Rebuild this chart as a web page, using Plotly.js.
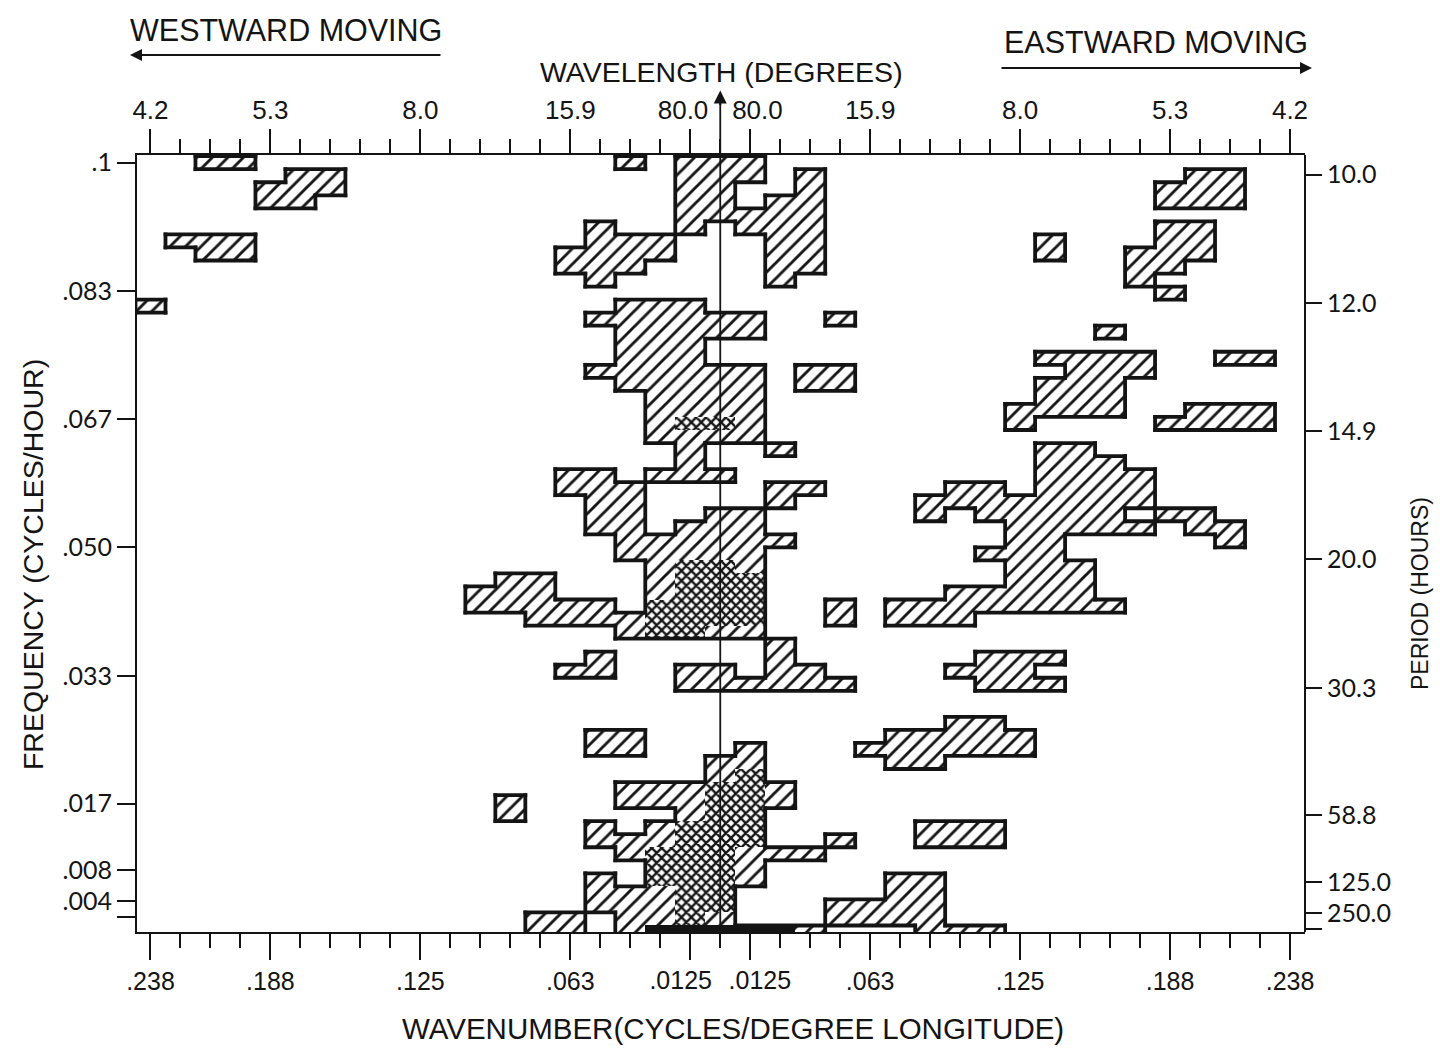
<!DOCTYPE html>
<html><head><meta charset="utf-8">
<script src="https://cdn.plot.ly/plotly-3.0.1.min.js"></script>
<style>html,body{margin:0;padding:0;background:#fff}#chart{width:1440px;height:1050px}</style>
</head><body><div id="chart"></div>
<script>
// ---- grid resolution (columns = wavenumber k/80 cycles/degree, rows = frequency j/590 cycles/hour)
const WAVENUMBER_STEP = 1 / 80;
const FREQ_STEP = 1 / 590;

// ---- tick labels
const waveTickK = [-19, -15, -10, -5, -1, 1, 5, 10, 15, 19];
const wavenumberLabels = ['.238', '.188', '.125', '.063', '.0125', '.0125', '.063', '.125', '.188', '.238'];
const wavelengthLabels = ['4.2', '5.3', '8.0', '15.9', '80.0', '80.0', '15.9', '8.0', '5.3', '4.2'];
const freqTicks = [0.1, 0.0833, 0.0667, 0.05, 0.0333, 0.0167, 0.008, 0.004, 0.002];
const freqLabels = ['.1', '.083', '.067', '.050', '.033', '.017', '.008', '.004', ''];
const periodLabels = ['10.0', '12.0', '14.9', '20.0', '30.3', '58.8', '125.0', '250.0', ''];

// ---- significant spectral cells: [frequency row j, k from, k to]
const hatchedRuns = [
  [59,-17,-16],[59,-3,-3],[59,-1,1],
  [58,-14,-13],[58,-1,1],[58,3,3],[58,16,17],
  [57,-15,-13],[57,-1,0],[57,3,3],[57,15,17],
  [56,-15,-14],[56,-1,0],[56,2,3],[56,15,17],
  [55,-1,3],
  [54,-4,-4],[54,-1,-1],[54,1,3],[54,15,16],
  [53,-18,-16],[53,-4,-2],[53,2,3],[53,11,11],[53,15,16],
  [52,-17,-16],[52,-5,-2],[52,2,3],[52,11,11],[52,14,16],
  [51,-5,-3],[51,2,3],[51,14,15],
  [50,-4,-4],[50,2,2],[50,14,14],
  [49,15,15],
  [48,-19,-19],[48,-3,-1],
  [47,-4,1],[47,4,4],
  [46,-3,1],[46,13,13],
  [45,-3,-1],
  [44,-3,-1],[44,11,14],[44,17,18],
  [43,-4,1],[43,3,4],[43,12,14],
  [42,-3,1],[42,3,4],[42,11,13],
  [41,-2,1],[41,11,13],
  [40,-2,1],[40,10,13],[40,16,18],
  [39,-2,-2],[39,1,1],[39,10,10],[39,15,18],
  [38,-2,1],
  [37,-1,-1],[37,2,2],[37,11,12],
  [36,-1,-1],[36,11,13],
  [35,-5,-4],[35,-2,0],[35,11,14],
  [34,-5,-3],[34,2,3],[34,8,9],[34,11,14],
  [33,-4,-3],[33,2,2],[33,7,14],
  [32,-4,-3],[32,0,1],[32,7,7],[32,9,13],[32,15,16],
  [31,-4,-3],[31,-1,1],[31,10,14],[31,16,17],
  [30,-3,2],[30,10,11],[30,17,17],
  [29,-3,1],[29,9,11],
  [28,-2,-2],[28,1,1],[28,10,12],
  [27,-7,-6],[27,-2,-2],[27,10,12],
  [26,-8,-6],[26,-2,-2],[26,8,12],
  [25,-8,-4],[25,4,4],[25,6,13],
  [24,-6,-3],[24,4,4],[24,6,8],
  [23,-3,-3],[23,0,1],
  [22,2,2],
  [21,-4,-4],[21,2,2],[21,9,11],
  [20,-5,-4],[20,-1,0],[20,2,3],[20,8,10],
  [19,-1,4],[19,9,11],
  [16,8,9],
  [15,-4,-3],[15,6,10],
  [14,-4,-3],[14,1,1],[14,5,10],
  [13,0,1],[13,6,7],
  [12,0,0],
  [11,-3,-1],[11,2,2],
  [10,-7,-7],[10,-3,-1],[10,2,2],
  [9,-7,-7],[9,-1,-1],
  [8,-4,-4],[8,-2,-2],[8,7,9],
  [7,-4,-2],[7,4,4],[7,7,9],
  [6,-3,-3],[6,1,3],
  [5,1,1],
  [4,-4,-4],[4,1,1],[4,6,7],
  [3,-4,-2],[3,6,7],
  [2,-4,-2],[2,4,7],
  [1,-6,-5],[1,-3,-2],[1,0,0],[1,4,7],
  [0,-6,-5],[0,-3,-3],[0,3,3],[0,7,9]
];
const crossRuns = [
  [39,-1,0],
  [28,-1,0],[27,-1,1],[26,-1,1],[25,-2,1],[24,-2,1],[23,-2,-1],
  [12,1,1],[11,0,1],[10,0,1],[9,0,1],[8,-1,1],[7,-1,1],
  [6,-2,0],[5,-2,0],[4,-2,0],[3,-1,0],[2,-1,0],[1,-1,-1]
];
const solidRuns = [[0,-2,2]];

// ---- expand runs into cells
function expand(runs) {
  const cells = [];
  runs.forEach(([j, a, b]) => { for (let k = a; k <= b; k++) cells.push({ j, k }); });
  return cells;
}
const hatchedCells = expand(hatchedRuns);
const crossCells = expand(crossRuns);
const solidCells = expand(solidRuns);

const FG = '#141414';
function barTrace(cells, marker) {
  return {
    type: 'bar',
    x: cells.map(c => c.k * WAVENUMBER_STEP),
    y: cells.map(() => FREQ_STEP),
    base: cells.map(c => (c.j - 0.5) * FREQ_STEP),
    width: cells.map(() => WAVENUMBER_STEP),
    marker: marker,
    hoverinfo: 'skip',
    showlegend: false
  };
}

// ---- axis geometry
const X0 = -19.45 * WAVENUMBER_STEP, X1 = 19.5 * WAVENUMBER_STEP;
const Y0 = 0, Y1 = 0.101;
const PLOT_W = 1168, PLOT_H = 777;
const RIGHT_SHIFT = 0.00155; // right-hand period scale sits slightly lower in the original

// ---- outline of significant regions (boundary between filled and empty cells)
const all = hatchedCells.concat(crossCells, solidCells);
const filled = new Set(all.map(c => c.j + ',' + c.k));
const vLines = {}, hLines = {};
all.forEach(({ j, k }) => {
  if (!filled.has(j + ',' + (k - 1))) (vLines[k - 0.5] = vLines[k - 0.5] || []).push(j);
  if (!filled.has(j + ',' + (k + 1))) (vLines[k + 0.5] = vLines[k + 0.5] || []).push(j);
  if (!filled.has((j + 1) + ',' + k)) (hLines[j + 0.5] = hLines[j + 0.5] || []).push(k);
  if (!filled.has((j - 1) + ',' + k)) (hLines[j - 0.5] = hLines[j - 0.5] || []).push(k);
});
function runsOf(list) {
  const s = Array.from(new Set(list)).sort((a, b) => a - b);
  const out = []; let a = s[0], p = s[0];
  for (let i = 1; i < s.length; i++) {
    if (s[i] === p + 1) { p = s[i]; continue; }
    out.push([a, p]); a = p = s[i];
  }
  out.push([a, p]);
  return out;
}
const LW = 3.8;
const dx = (LW / 2) * (X1 - X0) / PLOT_W;
const dy = (LW / 2) * (Y1 - Y0) / PLOT_H;
const ox = [], oy = [];
Object.keys(vLines).forEach(key => {
  const xl = parseFloat(key) * WAVENUMBER_STEP;
  runsOf(vLines[key]).forEach(([a, b]) => {
    ox.push(xl, xl, null);
    oy.push((a - 0.5) * FREQ_STEP - dy, (b + 0.5) * FREQ_STEP + dy, null);
  });
});
Object.keys(hLines).forEach(key => {
  const yl = parseFloat(key) * FREQ_STEP;
  runsOf(hLines[key]).forEach(([a, b]) => {
    ox.push((a - 0.5) * WAVENUMBER_STEP - dx, (b + 0.5) * WAVENUMBER_STEP + dx, null);
    oy.push(yl, yl, null);
  });
});

const traces = [
  barTrace(hatchedCells, { color: 'white', line: { width: 0 },
    pattern: { shape: '/', fgcolor: FG, bgcolor: 'white', size: 11, solidity: 0.26 } }),
  barTrace(crossCells, { color: 'white', line: { width: 0 },
    pattern: { shape: 'x', fgcolor: FG, bgcolor: 'white', size: 7, solidity: 0.55 } }),
  barTrace(solidCells, { color: FG, line: { width: 0 } }),
  { type: 'scatter', mode: 'lines', x: ox, y: oy, connectgaps: false,
    line: { color: FG, width: LW }, hoverinfo: 'skip', showlegend: false },
  { type: 'scatter', mode: 'markers', x: [0], y: [0.05], xaxis: 'x2', yaxis: 'y2',
    marker: { opacity: 0 }, hoverinfo: 'skip', showlegend: false },
  { type: 'scatter', mode: 'markers', x: [0], y: [0.05], xaxis: 'x3', yaxis: 'y',
    marker: { opacity: 0 }, hoverinfo: 'skip', showlegend: false }
];

const REG = '"Liberation Sans", Arial, sans-serif';
const ROUND = 'Lato, "Liberation Sans", sans-serif';
const NB = '\u00a0';
const tickVals = waveTickK.map(k => k * WAVENUMBER_STEP);
// the two ".0125" labels beside the central line are set apart from their ticks, as in the original
const centralIdx = [4, 5];
const mainBottomText = wavenumberLabels.map((t, i) => centralIdx.includes(i) ? '' : t);
const centralLabelPos = [-1.32 * WAVENUMBER_STEP, 1.32 * WAVENUMBER_STEP];
const centralLabelText = centralIdx.map(i => wavenumberLabels[i]);
const topText = wavelengthLabels.map((t, i) => i === 4 ? t + NB + NB : (i === 5 ? NB + NB + t : t));

const minorTicks = len => ({ tickmode: 'linear', tick0: 0, dtick: WAVENUMBER_STEP, ticks: 'outside',
  ticklen: len, tickwidth: 2, tickcolor: FG, showgrid: false });
const baseAxis = { showgrid: false, zeroline: false, showline: true, linewidth: 2, linecolor: FG,
  ticks: 'outside', tickwidth: 2, tickcolor: FG, fixedrange: true, tickangle: 0 };
const txt = (x, y, text, size, extra) => Object.assign({ xref: 'paper', yref: 'paper', x, y, text,
  showarrow: false, xanchor: 'center', yanchor: 'middle', font: { family: REG, size, color: FG } }, extra || {});

const layout = {
  width: 1440, height: 1050,
  margin: { l: 137, r: 135, t: 155, b: 118, pad: 0 },
  paper_bgcolor: 'white', plot_bgcolor: 'white',
  showlegend: false, barmode: 'overlay', bargap: 0,
  xaxis: Object.assign({}, baseAxis, { range: [X0, X1], tickmode: 'array', tickvals: tickVals,
    ticktext: mainBottomText, ticklen: 26, tickfont: { family: REG, size: 25, color: FG },
    minor: minorTicks(14) }),
  xaxis3: Object.assign({}, baseAxis, { overlaying: 'x', side: 'bottom', anchor: 'y', range: [X0, X1],
    showline: false, ticks: 'outside', ticklen: 26, tickcolor: 'rgba(0,0,0,0)', tickmode: 'array',
    tickvals: centralLabelPos, ticktext: centralLabelText, tickfont: { family: REG, size: 25, color: FG } }),
  xaxis2: Object.assign({}, baseAxis, { overlaying: 'x', side: 'top', anchor: 'y', range: [X0, X1],
    tickmode: 'array', tickvals: tickVals, ticktext: topText, ticklen: 24,
    tickfont: { family: REG, size: 26, color: FG }, minor: minorTicks(14) }),
  yaxis: Object.assign({}, baseAxis, { range: [Y0, Y1], tickmode: 'array', tickvals: freqTicks,
    ticktext: freqLabels, ticklen: 18, tickfont: { family: ROUND, size: 25, color: FG } }),
  yaxis2: Object.assign({}, baseAxis, { overlaying: 'y', side: 'right', anchor: 'x',
    range: [Y0 + RIGHT_SHIFT, Y1 + RIGHT_SHIFT], showline: false,
    tickmode: 'array', tickvals: freqTicks, ticktext: periodLabels, ticklen: 16,
    tickfont: { family: ROUND, size: 25, color: FG } }),
  shapes: [
    { type: 'line', xref: 'paper', yref: 'paper', x0: 1, x1: 1, y0: 0, y1: 1,
      line: { color: FG, width: 2 }, layer: 'above' },
    { type: 'line', xref: 'x', yref: 'paper', x0: 0, x1: 0, y0: 0, y1: 1.07,
      line: { color: FG, width: 1.8 }, layer: 'above' }
  ],
  annotations: [
    { xref: 'x', yref: 'paper', x: 0, y: 1.083, ax: 0, ay: 16, showarrow: true, arrowhead: 2,
      arrowsize: 1.3, arrowwidth: 2, arrowcolor: FG, text: '' },
    txt(0.1276, 1.161, 'WESTWARD MOVING', 30.5),
    { xref: 'paper', yref: 'paper', x: -0.006, y: 1.1287, ax: 312, ay: 0, showarrow: true,
      arrowhead: 2, arrowsize: 1.2, arrowwidth: 2, arrowcolor: FG, text: '' },
    txt(0.8724, 1.1454, 'EASTWARD MOVING', 30.5),
    { xref: 'paper', yref: 'paper', x: 1.006, y: 1.112, ax: -312, ay: 0, showarrow: true,
      arrowhead: 2, arrowsize: 1.2, arrowwidth: 2, arrowcolor: FG, text: '' },
    txt(0.5, 1.1068, 'WAVELENGTH (DEGREES)', 28.5),
    txt(0.5103, -0.1236, 'WAVENUMBER(CYCLES/DEGREE LONGITUDE)', 29.5),
    txt(-0.089, 0.4723, 'FREQUENCY (CYCLES/HOUR)', 28.5, { textangle: -90 }),
    txt(1.0985, 0.435, 'PERIOD (HOURS)', 23, { textangle: -90 })
  ]
};

Plotly.newPlot('chart', traces, layout, { displayModeBar: false, staticPlot: true });
</script>
</body></html>
